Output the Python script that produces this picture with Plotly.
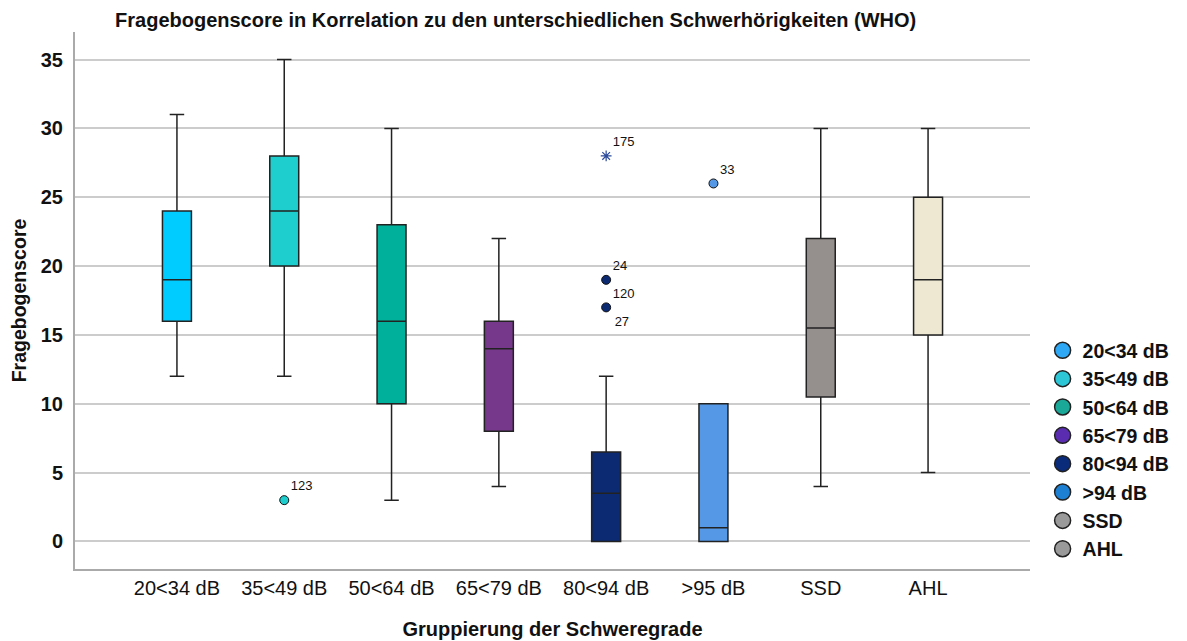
import plotly.graph_objects as go

categories = ["20<34 dB", "35<49 dB", "50<64 dB", "65<79 dB", "80<94 dB", ">95 dB", "SSD", "AHL"]
lower_whisker = [12, 12, 3, 4, 0, 0, 4, 5]
q1_values = [16, 20, 10, 8, 0, 0, 10.5, 15]
median_values = [19, 24, 16, 14, 3.5, 1, 15.5, 19]
q3_values = [24, 28, 23, 16, 6.5, 10, 22, 25]
upper_whisker = [31, 35, 30, 22, 12, 10, 30, 30]
box_colors = ["#00CCFF", "#1ECDCD", "#00B09B", "#76388A", "#0B2A72", "#5599E6", "#958F8D", "#EEE8D3"]

# outliers (circles)
outlier_cat = ["35<49 dB", "80<94 dB", "80<94 dB", ">95 dB"]
outlier_val = [3, 19, 17, 26]
outlier_label = ["123", "24", "120", "33"]
outlier_color = ["#1ECDCD", "#0B2A72", "#0B2A72", "#5599E6"]
# second case at the same value 17
extra_cat = ["80<94 dB"]
extra_val = [17]
extra_label = ["27"]
# extreme values (star)
extreme_cat = ["80<94 dB"]
extreme_val = [28]
extreme_label = ["175"]

legend_names = ["20<34 dB", "35<49 dB", "50<64 dB", "65<79 dB", "80<94 dB", ">94 dB", "SSD", "AHL"]
legend_colors = ["#2EA8F5", "#2CC6D6", "#1AA898", "#5A2DB0", "#0A2A7A", "#1E80D2", "#9A9A9A", "#9A9A9A"]

FONT = "Liberation Sans, Arial, sans-serif"

fig = go.Figure()
for i, c in enumerate(categories):
    fig.add_trace(go.Box(
        x=[c], q1=[q1_values[i]], median=[median_values[i]], q3=[q3_values[i]],
        lowerfence=[lower_whisker[i]], upperfence=[upper_whisker[i]],
        fillcolor=box_colors[i], line=dict(color="#222222", width=1.5),
        whiskerwidth=0.5, width=0.27, boxpoints=False, showlegend=False,
        hoverinfo="skip",
    ))

fig.add_trace(go.Scatter(
    x=outlier_cat, y=outlier_val, mode="markers+text", text=outlier_label,
    textposition="top right", textfont=dict(family=FONT, size=13, color="#111"),
    marker=dict(size=9, color=outlier_color, line=dict(color="#111", width=1)),
    showlegend=False, cliponaxis=False,
))
fig.add_trace(go.Scatter(
    x=extra_cat, y=extra_val, mode="markers+text", text=extra_label,
    textposition="bottom right", textfont=dict(family=FONT, size=13, color="#111"),
    marker=dict(size=12, color="rgba(0,0,0,0)"),
    showlegend=False,
))
fig.add_trace(go.Scatter(
    x=extreme_cat, y=extreme_val, mode="markers+text", text=extreme_label,
    textposition="top right", textfont=dict(family=FONT, size=13, color="#111"),
    marker=dict(size=9, symbol="asterisk-open", color="#2B4A9A", line=dict(color="#2B4A9A", width=1.2)),
    showlegend=False,
))

for i, n in enumerate(legend_names):
    fig.add_trace(go.Scatter(
        x=[None], y=[None], mode="markers", name=n,
        marker=dict(size=16, color=legend_colors[i], line=dict(color="#222", width=1.5)),
    ))

fig.update_layout(
    width=1179, height=633,
    margin=dict(l=67, r=155, t=24, b=72),
    paper_bgcolor="white", plot_bgcolor="white",
    boxmode="overlay",
    title=dict(text="Fragebogenscore in Korrelation zu den unterschiedlichen Schwerhörigkeiten (WHO)",
               x=0.0908, xanchor="left", y=0.981, yanchor="middle",
               font=dict(family=FONT, size=20, color="#111", weight="bold")),
    legend=dict(x=1.0132, xanchor="left", y=0.443, yanchor="top",
                font=dict(family=FONT, size=19.5, color="#111", weight="bold"),
                tracegroupgap=0, bgcolor="rgba(0,0,0,0)"),
    font=dict(family=FONT, color="#111"),
)
fig.update_xaxes(
    type="category", categoryorder="array", categoryarray=categories,
    range=[-0.95, 7.95], showgrid=False, showline=True, linecolor="#AAAAAA", linewidth=2,
    ticks="", tickfont=dict(family=FONT, size=20, color="#111"), automargin=False,
    title=dict(text="Gruppierung der Schweregrade", font=dict(family=FONT, size=20, color="#111", weight="bold"), standoff=24),
    zeroline=False,
)
fig.update_yaxes(
    range=[-2, 37], tickvals=[0, 5, 10, 15, 20, 25, 30, 35], automargin=False,
    showgrid=True, gridcolor="#CCCCCC", gridwidth=1.5, showline=True, linecolor="#AAAAAA", linewidth=2,
    ticks="", ticklabelstandoff=6, tickfont=dict(family=FONT, size=20, color="#111", weight="bold"),
    title=dict(text="Fragebogenscore", font=dict(family=FONT, size=19.5, color="#111", weight="bold"), standoff=13),
    zeroline=False,
)

fig.write_html("out.html")
